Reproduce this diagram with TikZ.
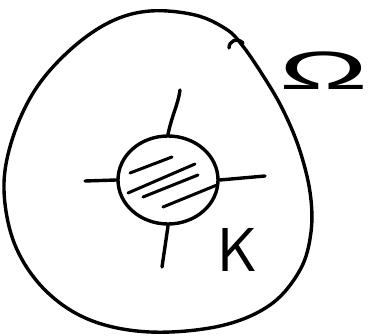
\documentclass[tikz,border=0pt]{standalone}
\usepackage{fontspec}
\newfontfamily\greekfont{Liberation Sans}
\usepackage{tikz}
\usetikzlibrary{shapes.geometric}
\tikzset{
  pen/.style={line width=3.4pt, line cap=round, line join=round},
  compact/.style={draw, pen, ellipse, minimum width=100pt, minimum height=88pt, inner sep=0pt},
  hatch/.style={pen, line width=3pt},
  lbl/.style={inner sep=0pt, font=\fontsize{62}{62}\selectfont\sffamily},
}
\begin{document}
\begin{tikzpicture}[x=1pt, y=-1pt]
  \useasboundingbox (0,0) rectangle (372,336);
  % the domain Omega
  \draw[pen] plot[smooth cycle, tension=0.6] coordinates {
    (242,45) (262,74) (282,108) (299,148) (310,192) (311,232) (300,270)
    (270,305) (220,326) (150,332) (90,320) (45,290) (15,245) (4,190)
    (12,140) (35,90) (70,50) (110,22) (150,11) (195,15) (226,29)};
  \draw[pen] (243,43) .. controls (237,37) and (229,41) .. (229,48);
  \node[inner sep=0pt, xscale=2.2, font=\fontsize{54}{54}\selectfont\greekfont] (omega) at (324,71) {Ω};
  % the compact set K
  \node[compact] (k) at (168,180) {};
  \coordinate (ktop) at (180,90);
  \coordinate (kleft) at (85,181);
  \coordinate (kright) at (265,176);
  \coordinate (kbottom) at (162,267);
  \draw[pen] (k.north) .. controls (172,115) and (178,105) .. (ktop);
  \draw[pen] (k.west) -- (kleft);
  \draw[pen] (k.east) -- (kright);
  \draw[pen] (k.south) .. controls (166,240) .. (kbottom);
  \foreach \a/\b in {{130,173}/{172,157}, {128,193}/{195,164}, {143,197}/{198,175}, {163,207}/{217,185}}
    \draw[hatch] (\a) -- (\b);
  \node[lbl] (klabel) at (238,250) {K};
\end{tikzpicture}
\end{document}
